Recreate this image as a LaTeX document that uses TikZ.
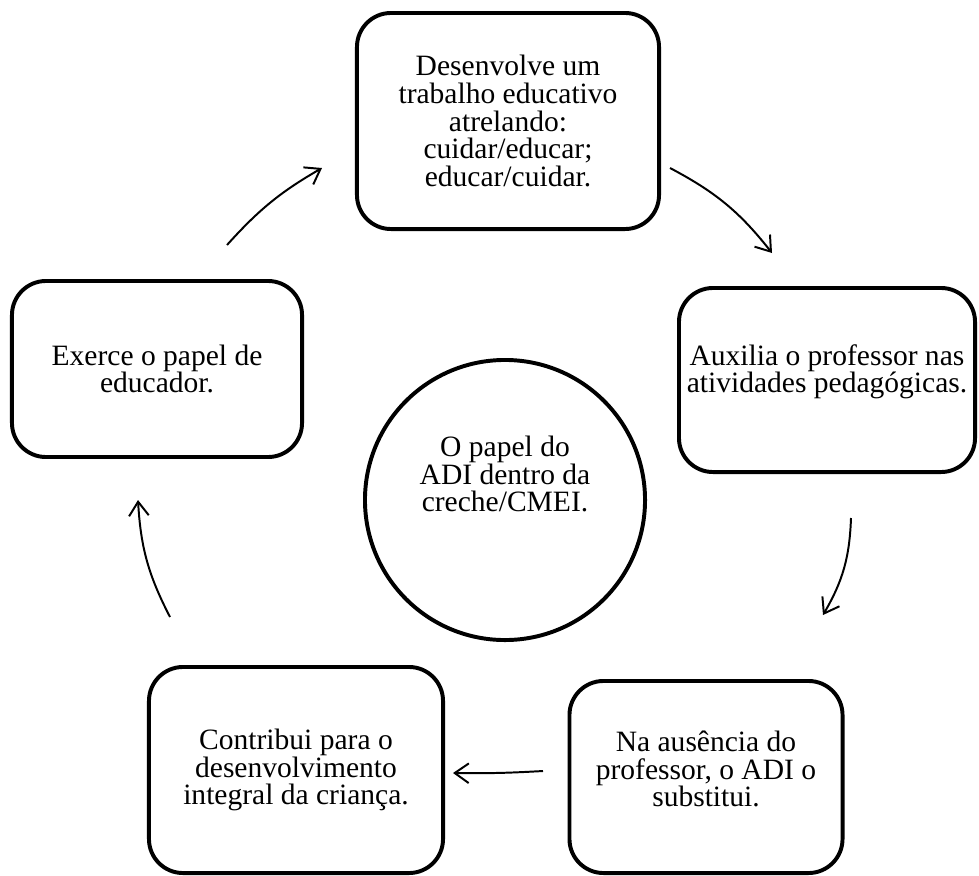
\documentclass[tikz,border=0pt]{standalone}
\usepackage{fontspec}
\setmainfont{Liberation Serif}
\usepackage{tikz}
\usetikzlibrary{arrows.meta}
\tikzset{papel/.style={draw, line width=2.8pt, rounded corners=0.85cm, align=center, inner sep=0pt, font=\fontsize{21}{19.6}\selectfont}}
\tikzset{texto/.style={align=center, inner sep=0pt, font=\fontsize{21}{19.6}\selectfont}}
\tikzset{ciclo/.style={line width=1.4pt, -{Straight Barb[length=10pt,width=14pt,line width=1.4pt]}, bend left=12}}

\begin{document}
\begin{tikzpicture}[x=0.025cm,y=-0.025cm]
\useasboundingbox (0,0) rectangle (979,875);
\node[papel, minimum width=7.55cm, minimum height=5.4cm] (cuidar) at (508,121) {Desenvolve um\\trabalho educativo\\atrelando:\\cuidar/educar;\\educar/cuidar.};
\node[papel, minimum width=7.4cm, minimum height=4.6cm] (auxilia) at (827,380) {};
\node[texto] (auxiliatexto) at (827,372) {Auxilia o professor nas\\atividades pedagógicas.};
\node[papel, minimum width=6.825cm, minimum height=4.8cm] (ausencia) at (706,777) {};
\node[texto] (ausenciatexto) at (706,769) {Na ausência do\\professor, o ADI o\\substitui.};
\node[papel, minimum width=7.35cm, minimum height=5.15cm] (integral) at (296,770) {Contribui para o\\desenvolvimento\\integral da criança.};
\node[papel, minimum width=7.25cm, minimum height=4.4cm] (educador) at (157,369) {Exerce o papel de\\educador.};
\node[papel, circle, minimum size=7cm] (adi) at (505,500) {};
\node[texto] (aditexto) at (505,474) {O papel do\\ADI dentro da\\creche/CMEI.};
\coordinate (e1) at (227,245);
\coordinate (c1) at (322,168);
\coordinate (c2) at (670,168);
\coordinate (a2) at (772,253);
\coordinate (a3) at (851,518);
\coordinate (s3) at (823,615);
\coordinate (s4) at (543,771);
\coordinate (i4) at (453,773);
\coordinate (i5) at (170,617);
\coordinate (e5) at (138,500);
\draw[ciclo, bend left=9] (e1) to (c1);
\draw[ciclo] (c2) to (a2);
\draw[ciclo, bend left=14] (a3) to (s3);
\draw[ciclo, bend left=2] (s4) to (i4);
\draw[ciclo] (i5) to (e5);
\end{tikzpicture}
\end{document}
